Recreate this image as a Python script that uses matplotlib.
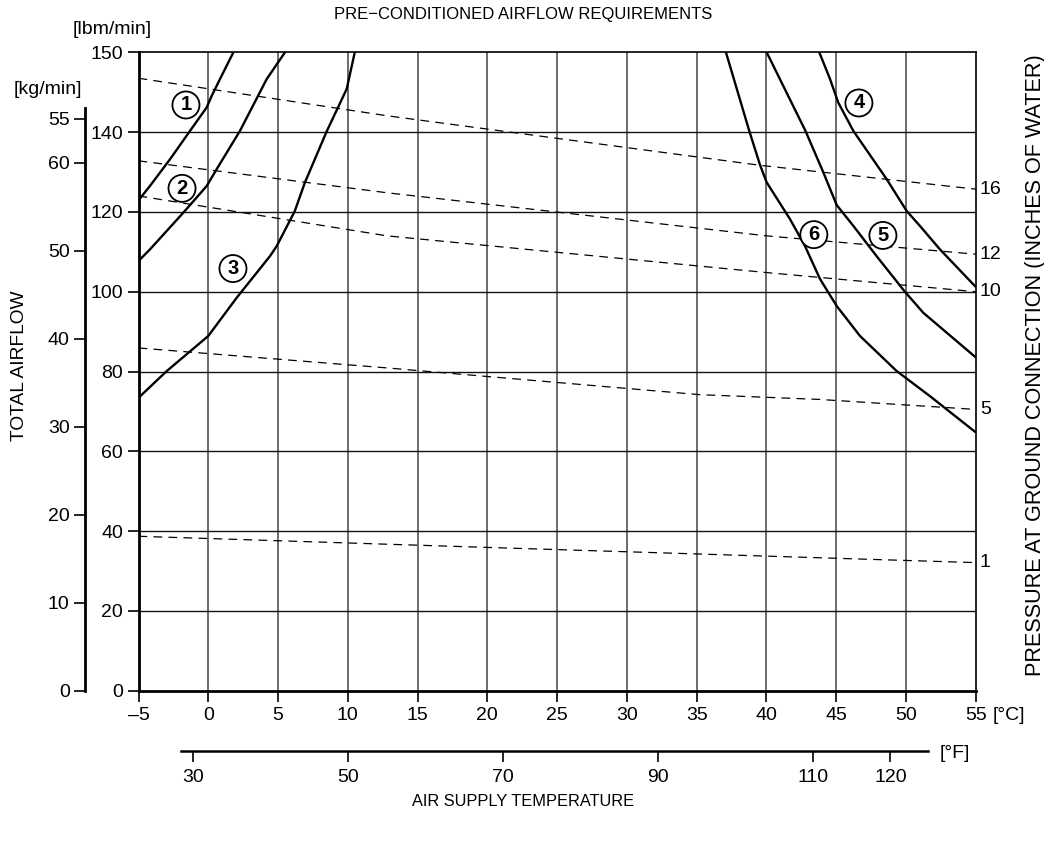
import matplotlib
matplotlib.use("Agg")
import matplotlib.pyplot as plt
import numpy as np

plt.rcParams['font.family'] = ['Liberation Sans', 'DejaVu Sans']

# ---------------- data ----------------
temp_c_ticks = [-5, 0, 5, 10, 15, 20, 25, 30, 35, 40, 45, 50, 55]
lbm_ticks = [0, 20, 40, 60, 80, 100, 120, 140, 160]
lbm_labels = ['0', '20', '40', '60', '80', '100', '120', '140', '150']
kg_ticks = [0, 10, 20, 30, 40, 50, 60, 65]
kg_labels = ['0', '10', '20', '30', '40', '50', '60', '55']
f_ticks = [30, 50, 70, 90, 110, 120]

# airflow requirement curves: temperature [°C] vs airflow [lbm/min]
c1_t = [-5.0, -4.18, -2.74, -1.31, -0.11, 0.25, 0.84, 1.8]
c1_q = [122.9, 126.5, 133.2, 140.3, 146.2, 149.1, 153.3, 160.0]
c2_t = [-5.0, -4.18, -1.79, -0.11, 0.6, 2.27, 4.19, 5.5]
c2_q = [107.7, 110.6, 119.8, 126.5, 130.7, 140.3, 153.3, 160.0]
c3_t = [-5.0, -2.98, 0.0, 2.04, 4.42, 4.9, 6.2, 6.93, 8.49, 9.92, 10.5]
c3_q = [73.4, 80.1, 88.9, 98.5, 108.9, 111.4, 120.2, 127.4, 140.2, 150.8, 160.0]
c4_t = [43.79, 44.56, 45.15, 46.23, 48.62, 50.06, 51.0, 52.44, 54.95]
c4_q = [160.0, 153.3, 147.4, 140.3, 128.2, 120.2, 116.5, 110.6, 101.4]
c5_t = [40.02, 42.8, 44.08, 45.04, 46.23, 47.9, 49.9, 51.25, 54.95]
c5_q = [160.0, 140.3, 129.9, 121.7, 116.5, 108.9, 100.1, 94.7, 83.7]
c6_t = [37.1, 38.78, 39.54, 40.02, 41.69, 42.77, 43.84, 45.04, 46.71, 49.34, 51.73, 54.95]
c6_q = [160.0, 140.2, 131.8, 127.4, 118.2, 111.4, 103.2, 96.4, 88.9, 80.1, 73.8, 64.9]

curves = [(c1_t, c1_q), (c2_t, c2_q), (c3_t, c3_q),
          (c4_t, c4_q), (c5_t, c5_q), (c6_t, c6_q)]

# curve markers: number, temperature, airflow
marker_num = ['1', '2', '3', '4', '5', '6']
marker_t = [-1.6, -1.88, 1.77, 46.63, 48.35, 43.4]
marker_q = [146.8, 125.9, 105.8, 147.3, 114.1, 114.3]

# pressure at ground connection (inches of water), dashed lines
p_labels = ['16', '12', '10', '5', '1']
p16_t = [-5, 12.8, 39.5, 55]
p16_q = [153.5, 144.1, 131.7, 125.7]
p12_t = [-5, 12.8, 40.0, 55]
p12_q = [132.8, 124.8, 114.0, 109.4]
p10_t = [-5, 12.8, 40.0, 55]
p10_q = [124.0, 114.0, 104.8, 100.0]
p5_t = [-5, 12.8, 35.2, 43.8, 55]
p5_q = [85.9, 80.9, 74.2, 73.0, 70.5]
p1_t = [-5, 21.0, 55]
p1_q = [38.7, 35.8, 32.1]
pressures = [(p16_t, p16_q), (p12_t, p12_q), (p10_t, p10_q),
             (p5_t, p5_q), (p1_t, p1_q)]

# ---------------- figure ----------------
W, H = 1044, 841
fig = plt.figure(figsize=(W / 100, H / 100), dpi=100)

L, R, T, B = 138.5, 975.7, 52.3, 690.7


def rect(x0, x1, y_top, y_bot):
    return [x0 / W, 1 - y_bot / H, (x1 - x0) / W, (y_bot - y_top) / H]


FS = 14
ax = fig.add_axes(rect(L, R, T, B))
ax.set_xlim(-5, 55)
ax.set_ylim(0, 160)

ax.set_xticks(temp_c_ticks)
ax.set_xticklabels([str(t).replace('-', '\u2013') for t in temp_c_ticks],
                   fontsize=FS)
ax.set_yticks(lbm_ticks)
ax.set_yticklabels(lbm_labels, fontsize=FS)
ax.tick_params(axis='both', direction='out', length=8, width=1.2, pad=3)
ax.tick_params(axis='x', pad=4)

# grid
for t in temp_c_ticks[1:-1]:
    ax.axvline(t, color='#444444', lw=1.1, zorder=1)
for q in lbm_ticks[1:-1]:
    ax.axhline(q, color='#111111', lw=1.0, zorder=1)

for side in ['left', 'bottom']:
    ax.spines[side].set_linewidth(2.0)
for side in ['top', 'right']:
    ax.spines[side].set_linewidth(1.2)

# dashed pressure lines
for (pt, pq), lab in zip(pressures, p_labels):
    ax.plot(pt, pq, color='black', lw=0.9, ls=(0, (7, 5)), zorder=2)
    ax.text(55.3, pq[-1], lab, fontsize=FS, va='center', ha='left',
            clip_on=False)

# requirement curves
for ct, cq in curves:
    ax.plot(ct, cq, color='black', lw=1.7, zorder=3, solid_joinstyle='round')

for n, t, q in zip(marker_num, marker_t, marker_q):
    ax.text(t, q, n, fontsize=14.5, fontweight='bold', ha='center', va='center',
            zorder=4,
            bbox=dict(boxstyle='circle,pad=0.2', fc='white', ec='black', lw=1.3))

# kg/min axis
axk = fig.add_axes(rect(85, 86, T, B))
axk.set_ylim(0, 160 / 2.2046)
axk.set_xticks([])
axk.patch.set_visible(False)
for side in ['top', 'right', 'bottom']:
    axk.spines[side].set_visible(False)
axk.spines['left'].set_linewidth(2.0)
axk.spines['left'].set_bounds(0, 66.3)
axk.set_yticks(kg_ticks)
axk.set_yticklabels(kg_labels, fontsize=FS)
axk.tick_params(axis='y', direction='out', length=8, width=1.2, pad=3)

# °F axis
f_lo = -5 * 9 / 5 + 32
f_hi = 55 * 9 / 5 + 32
axf = fig.add_axes(rect(L, R, 700, 751.3))
axf.set_xlim(f_lo, f_hi)
axf.set_yticks([])
axf.patch.set_visible(False)
for side in ['top', 'right', 'left']:
    axf.spines[side].set_visible(False)
axf.spines['bottom'].set_linewidth(1.8)
axf.spines['bottom'].set_bounds(28.5, 124.9)
axf.set_xticks(f_ticks)
axf.set_xticklabels([str(f) for f in f_ticks], fontsize=FS)
axf.tick_params(axis='x', direction='out', length=8, width=1.2, pad=5)

# texts
fig.text(523 / W, 1 - 15 / H, 'PRE\u2212CONDITIONED AIRFLOW REQUIREMENTS',
         fontsize=12, ha='center', va='center')
fig.text(112 / W, 1 - 29 / H, '[lbm/min]', fontsize=FS, ha='center', va='center')
fig.text(47.5 / W, 1 - 90 / H, '[kg/min]', fontsize=FS, ha='center', va='center')
fig.text(20 / W, 1 - 366 / H, 'TOTAL AIRFLOW', fontsize=13.8, ha='center',
         va='center', rotation=90)
fig.text(1035 / W, 1 - 365 / H, 'PRESSURE AT GROUND CONNECTION (INCHES OF WATER)',
         fontsize=15.6, ha='center', va='center', rotation=90)
fig.text(523 / W, 1 - 802 / H, 'AIR SUPPLY TEMPERATURE', fontsize=11.8,
         ha='center', va='center')
fig.text(993 / W, 1 - 715 / H, '[°C]', fontsize=FS, ha='left', va='center')
fig.text(940 / W, 1 - 754 / H, '[°F]', fontsize=FS, ha='left', va='center')

fig.savefig('out.png', dpi=100)
